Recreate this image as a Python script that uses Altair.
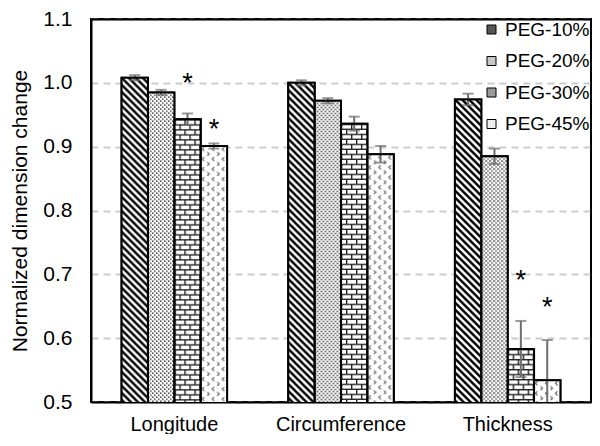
import base64
import altair as alt
import pandas as pd

# ---------------- data ----------------
categories = ["Longitude", "Circumference", "Thickness"]
series = ["PEG-10%", "PEG-20%", "PEG-30%", "PEG-45%"]

values_peg10 = [1.008, 1.000, 0.974]
values_peg20 = [0.985, 0.972, 0.885]
values_peg30 = [0.943, 0.936, 0.583]
values_peg45 = [0.901, 0.888, 0.534]

errors_peg10 = [0.004, 0.004, 0.009]
errors_peg20 = [0.004, 0.004, 0.012]
errors_peg30 = [0.009, 0.011, 0.044]
errors_peg45 = [0.004, 0.013, 0.063]

# significance markers (asterisks)
star_category = ["Longitude", "Longitude", "Thickness", "Thickness"]
star_series = ["PEG-30%", "PEG-45%", "PEG-30%", "PEG-45%"]
star_value = [1.010, 0.938, 0.702, 0.660]

y_ticks = [0.5, 0.6, 0.7, 0.8, 0.9, 1.0, 1.1]

# ---------------- styles ----------------
FONT = "Liberation Sans"


def pattern_uri(body, w, h):
    svg = (
        '<svg xmlns="http://www.w3.org/2000/svg">'
        f'<defs><pattern id="p" patternUnits="userSpaceOnUse" width="{w}" height="{h}">'
        f'<rect width="{w}" height="{h}" fill="white"/>{body}</pattern></defs>'
        '<rect width="100%" height="100%" fill="url(#p)"/></svg>'
    )
    return "data:image/svg+xml;base64," + base64.b64encode(svg.encode()).decode()


patterns = {
    # diagonal hatch "\\"
    "PEG-10%": pattern_uri(
        '<path d="M-2,-2 L9,9 M-2,5 L2,9 M5,-2 L9,2" stroke="black" stroke-width="2.4"/>', 7, 7
    ),
    # fine stipple
    "PEG-20%": pattern_uri(
        '<rect x="0" y="0" width="1.6" height="1.6" fill="#555"/>'
        '<rect x="2" y="2" width="1.6" height="1.6" fill="#555"/>', 4, 4
    ),
    # bricks
    "PEG-30%": pattern_uri(
        '<path d="M0,0.7 H10 M0,5.7 H10 M0.7,0.7 V5.7 M5.7,5.7 V10.7" '
        'stroke="#222" stroke-width="1.4" fill="none"/>', 10, 10
    ),
    # divots
    "PEG-45%": pattern_uri(
        '<path d="M3.5,1 L1.5,3 L3.5,5 M6.5,6 L8.5,8 L6.5,10" '
        'stroke="#666" stroke-width="1.2" fill="none"/>', 10, 10
    ),
}
legend_fill = ["#555555", "#c8c8c8", "#9a9a9a", "#eeeeee"]

# ---------------- table ----------------
vals = [values_peg10, values_peg20, values_peg30, values_peg45]
errs = [errors_peg10, errors_peg20, errors_peg30, errors_peg45]
rows = []
for s, v_list, e_list in zip(series, vals, errs):
    for c, v, e in zip(categories, v_list, e_list):
        rows.append(
            {"category": c, "series": s, "value": v, "lo": v - e, "hi": v + e, "url": patterns[s]}
        )
df = pd.DataFrame(rows)
stars = pd.DataFrame({"category": star_category, "series": star_series, "value": star_value})

x_scale = alt.Scale(paddingInner=0.367, paddingOuter=0.1835)
y_scale = alt.Scale(domain=[0.5, 1.1], zero=False, nice=False)

# main axes (bottom / left)
x_main = alt.X(
    "category:N",
    sort=categories,
    scale=x_scale,
    axis=alt.Axis(
        title=None, labelAngle=0, ticks=False, domain=True, domainColor="black",
        domainWidth=2, labelFontSize=20, labelPadding=12, labelFont=FONT,
        labelColor="black", grid=False,
    ),
)
y_main = alt.Y(
    "value:Q",
    scale=y_scale,
    axis=alt.Axis(
        title="Normalized dimension change", values=y_ticks, format=".1f",
        ticks=False, tickSize=0, domain=True, domainColor="black", domainWidth=2,
        labelFontSize=21, labelPadding=19,
        labelFont=FONT, labelColor="black", titleFont=FONT, titleFontSize=21,
        titleFontWeight="normal", titleColor="black", titlePadding=12,
        grid=True, gridDash=[7, 5], gridColor="#cccccc", gridWidth=2,
    ),
)
# frame axes (top / right), lines only
x_top = alt.X(
    "category:N",
    sort=categories,
    scale=x_scale,
    axis=alt.Axis(
        orient="top", title=None, labels=False, ticks=False, grid=False,
        domain=True, domainColor="black", domainWidth=2,
    ),
)
y_right = alt.Y(
    "value:Q",
    scale=y_scale,
    axis=alt.Axis(
        orient="right", title=None, labels=False, ticks=False, grid=False,
        domain=True, domainColor="black", domainWidth=2,
    ),
)
# no axis for the remaining layers
x_plain = alt.X("category:N", sort=categories, scale=x_scale, axis=None)
xo_enc = alt.XOffset("series:N", sort=series, scale=alt.Scale(paddingInner=0, paddingOuter=0))


def y_plain(field):
    return alt.Y(f"{field}:Q", scale=y_scale, axis=None)


base = alt.Chart(df)

fill_bars = base.mark_bar(stroke="black", strokeWidth=2, clip=True).encode(
    x=x_main,
    xOffset=xo_enc,
    y=y_main,
    fill=alt.Fill(
        "series:N",
        sort=series,
        scale=alt.Scale(domain=series, range=legend_fill),
        legend=alt.Legend(
            title=None, orient="top-right", offset=1, symbolType="square",
            symbolSize=81, symbolStrokeColor="black", symbolStrokeWidth=1,
            labelFontSize=19, labelFont=FONT, labelColor="black", rowPadding=11.5,
            labelOffset=4, padding=0,
        ),
    ),
)

pattern_imgs = base.mark_image(aspect=False, clip=True).encode(
    x=x_plain, xOffset=xo_enc, y=y_plain("value"), url="url:N"
)

err_rule = base.mark_rule(color="#6e6e6e", strokeWidth=2, clip=True).encode(
    x=x_plain, xOffset=xo_enc, y=y_plain("lo"), y2="hi:Q"
)
err_cap_hi = base.mark_tick(color="#6e6e6e", thickness=2, size=11, clip=True).encode(
    x=x_plain, xOffset=xo_enc, y=y_plain("hi")
)
err_cap_lo = base.mark_tick(color="#6e6e6e", thickness=2, size=11, clip=True).encode(
    x=x_plain, xOffset=xo_enc, y=y_plain("lo")
)

outline = base.mark_bar(fillOpacity=0, stroke="black", strokeWidth=2, clip=True).encode(
    x=x_top, xOffset=xo_enc, y=y_right
)

star_marks = alt.Chart(stars).mark_text(
    text="*", fontSize=27, font=FONT, color="black", baseline="alphabetic", dy=16
).encode(x=x_plain, xOffset=xo_enc, y=y_plain("value"))

chart = (
    alt.layer(fill_bars, pattern_imgs, err_rule, err_cap_hi, err_cap_lo, outline, star_marks)
    .resolve_axis(x="independent", y="independent")
    .properties(
        width=500, height=383,
        autosize=alt.AutoSizeParams(type="none"),
        padding={"left": 83, "top": 11, "right": 1, "bottom": 32},
    )
    .configure(font=FONT)
    .configure_view(stroke="black", strokeWidth=2)
)

chart.save("out.html", embed_options={"renderer": "svg", "actions": False})
